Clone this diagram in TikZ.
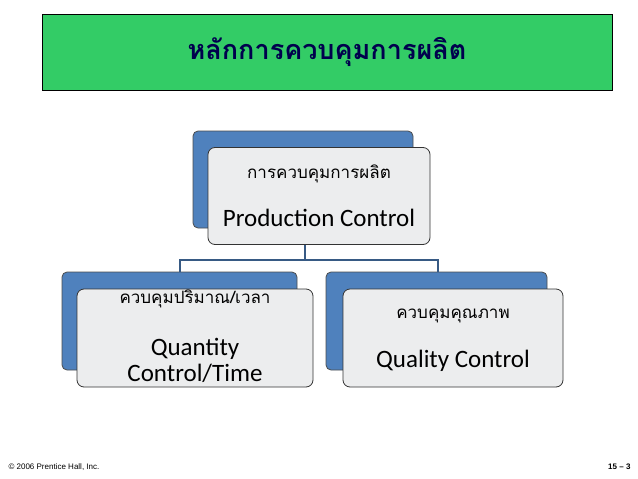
\documentclass[tikz,border=0pt]{standalone}
\usepackage{fontspec}
\setmainfont{Carlito}
\newfontfamily\thaifont[Script=Thai]{Loma}
\newfontfamily\footfont{Liberation Sans}
\usetikzlibrary{positioning}
\definecolor{titlegreen}{RGB}{51,204,102}
\definecolor{titleblue}{RGB}{0,0,128}
\definecolor{backblue}{RGB}{79,129,189}
\definecolor{frontgray}{RGB}{236,237,238}
\tikzset{
  backbox/.style={draw=black!70,fill=backblue,rounded corners=5pt,line width=0.8pt},
  frontbox/.style={draw=black!80,fill=frontgray,rounded corners=7pt,line width=0.8pt,
    align=center,inner sep=0pt},
  thaitext/.style={font=\thaifont\fontsize{17}{20}\selectfont},
  engtext/.style={font=\fontsize{25}{26}\selectfont,align=center},
  link/.style={draw=backblue!70!black,line width=1.5pt}
}
\begin{document}
\begin{tikzpicture}[x=1pt,y=-1pt]
	\useasboundingbox (0,0) rectangle (638,479);
	%TITLE
	\draw[fill=titlegreen,draw=black] (42,14) rectangle (612,90);
	\node[text=titleblue!60!black,font=\thaifont\bfseries\fontsize{27}{30}\selectfont] (title) at (327,52) {หลักการควบคุมการผลิต};
	%
	\draw[backbox] (193,131) rectangle (413,228);
	\node[frontbox,minimum width=222pt,minimum height=97pt] (prod) at (319,196) {};
	\node[thaitext] at (319,174) {การควบคุมการผลิต};
	\node[engtext] at (319,218) {Production Control};
	%
	\draw[backbox] (62,272) rectangle (297,370);
	\node[frontbox,minimum width=236pt,minimum height=98pt] (qty) at (195,338) {};
	\node[thaitext] at (195,299) {ควบคุมปริมาณ/เวลา};
	\node[engtext] at (195,360) {Quantity\\Control/Time};
	%
	\draw[backbox] (326,272) rectangle (547,370);
	\node[frontbox,minimum width=220pt,minimum height=98pt] (qual) at (453,338) {};
	\node[thaitext] at (453,316) {ควบคุมคุณภาพ};
	\node[engtext] at (453,361) {Quality Control};
	%
	\coordinate (split) at (305,260);
	\draw[link] (305,245) -- (split);
	\draw[link] (180,272) -- (180,260) -- (438,260) -- (438,272);
	%FOOTER
	\node[font=\footfont\fontsize{8}{9}\selectfont,anchor=west] (copy) at (5,467) {© 2006 Prentice Hall, Inc.};
	\node[font=\footfont\bfseries\fontsize{8}{9}\selectfont,anchor=east] (page) at (634,467) {15 – 3};
\end{tikzpicture}
\end{document}
